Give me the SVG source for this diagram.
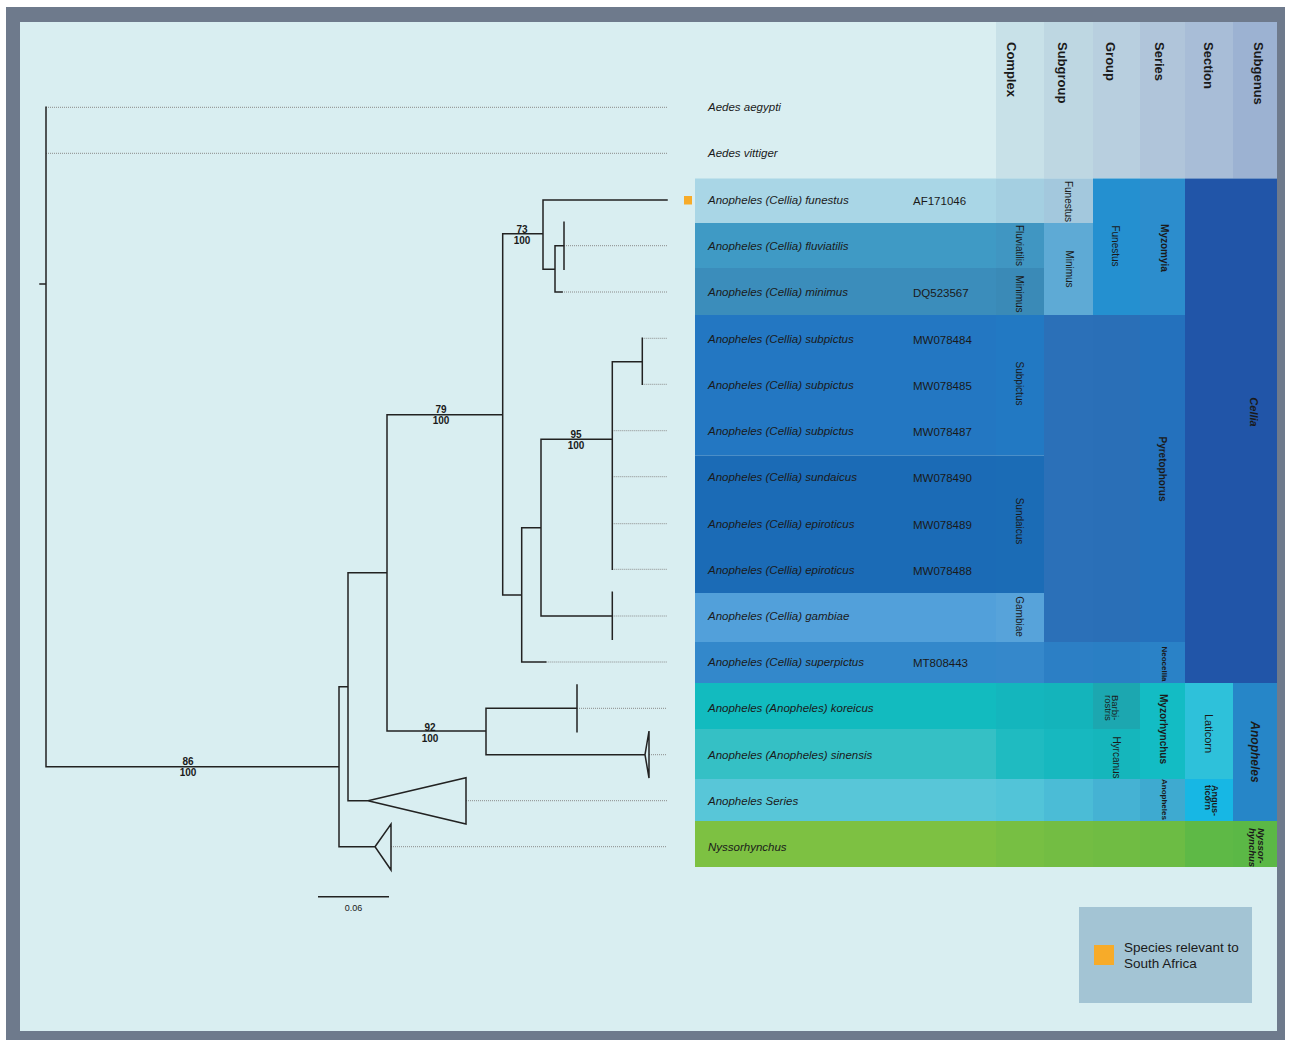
<svg xmlns="http://www.w3.org/2000/svg" width="1290" height="1042" viewBox="0 0 1290 1042">
<style>
.tree{stroke:#222;stroke-width:1.5;fill:none;stroke-linecap:square}
.lead{stroke:#8a8a8a;stroke-width:1;stroke-dasharray:1 1;fill:none}
.tax{font-family:"Liberation Sans",Arial,sans-serif;font-style:italic;font-size:11.5px;fill:#1a1a1a}
.acc{font-family:"Liberation Sans",Arial,sans-serif;font-size:11.5px;fill:#1a1a1a}
.bs{font-family:"Liberation Sans",Arial,sans-serif;font-weight:bold;font-size:10px;fill:#1a1a1a;text-anchor:middle}
.hdr{font-family:"Liberation Sans",Arial,sans-serif;font-weight:bold;font-size:13px;fill:#1a1a1a;dominant-baseline:central}
.rl{font-family:"Liberation Sans",Arial,sans-serif;font-size:10px;fill:#1a1a1a;text-anchor:middle;dominant-baseline:central}
.rb{font-family:"Liberation Sans",Arial,sans-serif;font-weight:bold;font-size:10px;fill:#1a1a1a;text-anchor:middle;dominant-baseline:central}
.lg{font-family:"Liberation Sans",Arial,sans-serif;font-size:13.5px;fill:#1a1a1a}
</style>
<rect x="0" y="0" width="1290" height="1042" fill="#ffffff"/>
<rect x="6" y="7" width="1279" height="1033" fill="#6e7a8c"/>
<rect x="20" y="22" width="1257" height="1009" fill="#d9eef1"/>

<g id="header">
<rect x="996" y="22" width="48" height="156.5" fill="#c8e1e8"/>
<rect x="1044" y="22" width="49" height="156.5" fill="#bed7e2"/>
<rect x="1093" y="22" width="47" height="156.5" fill="#b8cfdf"/>
<rect x="1140" y="22" width="45" height="156.5" fill="#b0c5da"/>
<rect x="1185" y="22" width="48" height="156.5" fill="#a8bdd7"/>
<rect x="1233" y="22" width="44" height="156.5" fill="#9cb2d2"/>
<text class="hdr" transform="translate(1011.5,42) rotate(90)">Complex</text>
<text class="hdr" transform="translate(1062,42) rotate(90)">Subgroup</text>
<text class="hdr" transform="translate(1110.5,42) rotate(90)">Group</text>
<text class="hdr" transform="translate(1159.5,42) rotate(90)">Series</text>
<text class="hdr" transform="translate(1208,42) rotate(90)">Section</text>
<text class="hdr" transform="translate(1258.5,42) rotate(90)">Subgenus</text>
</g>

<g id="taxon-aegypti"><text class="tax" x="708" y="111.3">Aedes aegypti</text></g>
<g id="taxon-vittiger"><text class="tax" x="708" y="157.3">Aedes vittiger</text></g>
<g id="taxon-funestus"><rect x="695" y="178.5" width="301" height="44.5" fill="#a9d6e6"/><rect x="684" y="196" width="8" height="8.5" fill="#f7ab29"/><text class="tax" x="708" y="204">Anopheles (Cellia) funestus</text><text class="acc" x="913" y="205">AF171046</text></g>
<g id="taxon-fluviatilis"><rect x="695" y="223" width="301" height="45" fill="#3f9ac5"/><text class="tax" x="708" y="250">Anopheles (Cellia) fluviatilis</text></g>
<g id="taxon-minimus"><rect x="695" y="268" width="301" height="47" fill="#3b8dbb"/><text class="tax" x="708" y="296">Anopheles (Cellia) minimus</text><text class="acc" x="913" y="297">DQ523567</text></g>
<g id="taxon-subpictus"><rect x="695" y="315" width="301" height="140.5" fill="#2377c2"/><text class="tax" x="708" y="342.5">Anopheles (Cellia) subpictus</text><text class="acc" x="913" y="343.5">MW078484</text><text class="tax" x="708" y="388.5">Anopheles (Cellia) subpictus</text><text class="acc" x="913" y="389.5">MW078485</text><text class="tax" x="708" y="435">Anopheles (Cellia) subpictus</text><text class="acc" x="913" y="436">MW078487</text></g>
<g id="taxon-sundaicus"><rect x="695" y="455.5" width="301" height="137.5" fill="#1b6bb6"/><text class="tax" x="708" y="481">Anopheles (Cellia) sundaicus</text><text class="acc" x="913" y="482">MW078490</text><text class="tax" x="708" y="528">Anopheles (Cellia) epiroticus</text><text class="acc" x="913" y="529">MW078489</text><text class="tax" x="708" y="574">Anopheles (Cellia) epiroticus</text><text class="acc" x="913" y="575">MW078488</text></g>
<g id="taxon-gambiae"><rect x="695" y="593" width="301" height="49" fill="#52a0da"/><text class="tax" x="708" y="620">Anopheles (Cellia) gambiae</text></g>
<g id="taxon-superpictus"><rect x="695" y="642" width="301" height="41" fill="#3388cb"/><text class="tax" x="708" y="666">Anopheles (Cellia) superpictus</text><text class="acc" x="913" y="667">MT808443</text></g>
<g id="taxon-koreicus"><rect x="695" y="683" width="301" height="46" fill="#12bbbf"/><text class="tax" x="708" y="712.3">Anopheles (Anopheles) koreicus</text></g>
<g id="taxon-sinensis"><rect x="695" y="729" width="301" height="50" fill="#35c0c5"/><text class="tax" x="708" y="758.7">Anopheles (Anopheles) sinensis</text></g>
<g id="taxon-anopheles-series"><rect x="695" y="779" width="301" height="42" fill="#58c6d8"/><text class="tax" x="708" y="804.7">Anopheles Series</text></g>
<g id="taxon-nyssorhynchus"><rect x="695" y="821" width="301" height="46" fill="#7dc142"/><text class="tax" x="708" y="850.7">Nyssorhynchus</text></g>

<g id="col-complex">
<rect x="996" y="178.5" width="48" height="44.5" fill="#a4cfe1"/>
<rect x="996" y="223" width="48" height="45" fill="#4096c2"/>
<rect x="996" y="268" width="48" height="47" fill="#3a8ab7"/>
<rect x="996" y="315" width="48" height="140.5" fill="#2279c3"/>
<rect x="996" y="455.5" width="48" height="137.5" fill="#1b6cb6"/>
<rect x="996" y="593" width="48" height="49" fill="#57a3da"/>
<rect x="996" y="642" width="48" height="41" fill="#3588cb"/>
<rect x="996" y="683" width="48" height="46" fill="#14b6bd"/>
<rect x="996" y="729" width="48" height="50" fill="#1fbbc1"/>
<rect x="996" y="779" width="48" height="42" fill="#52c4d8"/>
<rect x="996" y="821" width="48" height="46" fill="#77bf43"/>
<text class="rl" transform="translate(1019.5,245.5) rotate(90)">Fluviatilis</text>
<text class="rl" transform="translate(1019.5,294) rotate(90)">Minimus</text>
<text class="rl" transform="translate(1019.5,383.5) rotate(90)">Subpictus</text>
<text class="rl" transform="translate(1019.5,521) rotate(90)">Sundaicus</text>
<text class="rl" transform="translate(1019.5,616.5) rotate(90)">Gambiae</text>
</g>

<g id="col-subgroup">
<rect x="1044" y="178.5" width="49" height="44.5" fill="#a3c8dd"/>
<rect x="1044" y="223" width="49" height="92" fill="#5eaad5"/>
<rect x="1044" y="315" width="49" height="327" fill="#2b70b8"/>
<rect x="1044" y="642" width="49" height="41" fill="#2c7fc5"/>
<rect x="1044" y="683" width="49" height="46" fill="#14b4bb"/>
<rect x="1044" y="729" width="49" height="50" fill="#17b8bf"/>
<rect x="1044" y="779" width="49" height="42" fill="#4bbcd6"/>
<rect x="1044" y="821" width="49" height="46" fill="#73bd43"/>
<text class="rl" transform="translate(1068,201.5) rotate(90)">Funestus</text>
<text class="rl" transform="translate(1069,269) rotate(90)">Minimus</text>
</g>

<g id="col-group">
<rect x="1093" y="178.5" width="47" height="136.5" fill="#2490d0"/>
<rect x="1093" y="315" width="47" height="327" fill="#2a6fb7"/>
<rect x="1093" y="642" width="47" height="41" fill="#2a7fc4"/>
<rect x="1093" y="683" width="47" height="46" fill="#1ca7b0"/>
<rect x="1093" y="729" width="47" height="50" fill="#15b6bc"/>
<rect x="1093" y="779" width="47" height="42" fill="#45b2d3"/>
<rect x="1093" y="821" width="47" height="46" fill="#70bc43"/>
<text class="rl" transform="translate(1115,246) rotate(90)">Funestus</text>
<text class="rl" style="text-anchor:start;font-size:9.5px" transform="translate(1115.5,695) rotate(90)">Barbi-</text>
<text class="rl" style="text-anchor:start;font-size:9.5px" transform="translate(1108.5,695) rotate(90)">rostris</text>
<text class="rl" transform="translate(1116.5,757.5) rotate(90)">Hyrcanus</text>
</g>

<g id="col-series">
<rect x="1140" y="178.5" width="45" height="136.5" fill="#2c8dcd"/>
<rect x="1140" y="315" width="45" height="327" fill="#2471bd"/>
<rect x="1140" y="642" width="45" height="41" fill="#2a82c7"/>
<rect x="1140" y="683" width="45" height="96" fill="#13bcc4"/>
<rect x="1140" y="779" width="45" height="42" fill="#3eaad0"/>
<rect x="1140" y="821" width="45" height="46" fill="#6cbc44"/>
<text class="rb" transform="translate(1164,248) rotate(90)">Myzomyia</text>
<text class="rb" transform="translate(1162.5,469) rotate(90)">Pyretophorus</text>
<text class="rb" style="font-size:8px" transform="translate(1164,664) rotate(90)">Neocellia</text>
<text class="rb" transform="translate(1163.5,729) rotate(90)">Myzorhynchus</text>
<text class="rb" style="font-size:8px" transform="translate(1164,799.5) rotate(90)">Anopheles</text>
</g>

<g id="col-section">
<rect x="1185" y="178.5" width="48" height="504.5" fill="#2155a8"/>
<rect x="1185" y="683" width="48" height="96" fill="#2ec1da"/>
<rect x="1185" y="779" width="48" height="42" fill="#17b7e4"/>
<rect x="1185" y="821" width="48" height="46" fill="#5eb946"/>
<text class="rl" style="font-size:11px" transform="translate(1208.5,733.5) rotate(90)">Laticorn</text>
<text class="rb" style="text-anchor:start;font-size:9px" transform="translate(1215,785) rotate(90)">Angus-</text>
<text class="rb" style="text-anchor:start;font-size:9px" transform="translate(1208,785) rotate(90)">ticorn</text>
</g>

<g id="col-subgenus">
<rect x="1233" y="178.5" width="44" height="504.5" fill="#2155a8"/>
<rect x="1233" y="683" width="44" height="138" fill="#2686c8"/>
<rect x="1233" y="821" width="44" height="46" fill="#5bb846"/>
<text class="rb" style="font-style:italic;font-size:11px" transform="translate(1254,412) rotate(90)">Cellia</text>
<text class="rb" style="font-style:italic;font-size:12px" transform="translate(1255,752) rotate(90)">Anopheles</text>
<text class="rb" style="font-style:italic;font-size:9.5px;text-anchor:start" transform="translate(1261,828) rotate(90)">Nyssor-</text>
<text class="rb" style="font-style:italic;font-size:9.5px;text-anchor:start" transform="translate(1252.5,828) rotate(90)">hynchus</text>
</g>

<g id="connectors">
<path class="lead" d="M46,107.3H667M46,153.3H667M391,846.7H667M466,800.7H667M577,708.3H667M649,754.7H667M564,245.7H667M562,292H667M545.7,662H667M612.3,616H667M612.3,430.7H667M612.3,476.7H667M612.3,523.7H667M612.3,569.3H667M642.3,338.3H667M642.3,384.3H667"/>
<path class="tree" d="M46,107.3V766.7M40,284H46M46,766.7H339M339,686.7V846.7M339,686.7H348M339,846.7H375M375,846.7L391,824V870Z M348,572.7V800.7M348,572.7H387M348,800.7H368M368,800.7L466,777.7V824Z M387,414.7V731M387,414.7H502.7M387,731H486M486,708.3V754.7M486,708.3H577M577,685V731.7M486,754.7H645M645,754.7L649,731V778Z M502.7,233.7V595M502.7,233.7H543M502.7,595H521.7M543,200V269.3M543,200H667M543,269.3H555M555,245.7V292M555,245.7H564M564,222.3V269.3M555,292H562M521.7,527.7V662M521.7,527.7H541M521.7,662H545.7M541,439.3V616M541,439.3H612.3M541,616H612.3M612.3,592.3V639.3M612.3,361.7V569.3M612.3,361.7H642.3M642.3,338.3V384.3"/>
<text class="bs" x="522" y="233">73</text><text class="bs" x="522" y="244">100</text>
<text class="bs" x="441" y="413">79</text><text class="bs" x="441" y="424">100</text>
<text class="bs" x="576" y="438">95</text><text class="bs" x="576" y="449">100</text>
<text class="bs" x="430" y="730.5">92</text><text class="bs" x="430" y="741.5">100</text>
<text class="bs" x="188" y="765">86</text><text class="bs" x="188" y="776">100</text>
</g>

<g id="scale-bar">
<path d="M318,896.7H389" stroke="#222" stroke-width="1.5"/>
<text x="353.5" y="911" font-family="Liberation Sans, Arial, sans-serif" font-size="9" fill="#1a1a1a" text-anchor="middle">0.06</text>
</g>

<g id="legend">
<rect x="1079" y="907" width="173" height="96" fill="#a3c4d4"/>
<rect x="1094" y="945" width="20" height="20" fill="#f7ab29"/>
<text class="lg" x="1124" y="952">Species relevant to</text>
<text class="lg" x="1124" y="968">South Africa</text>
</g>
</svg>
